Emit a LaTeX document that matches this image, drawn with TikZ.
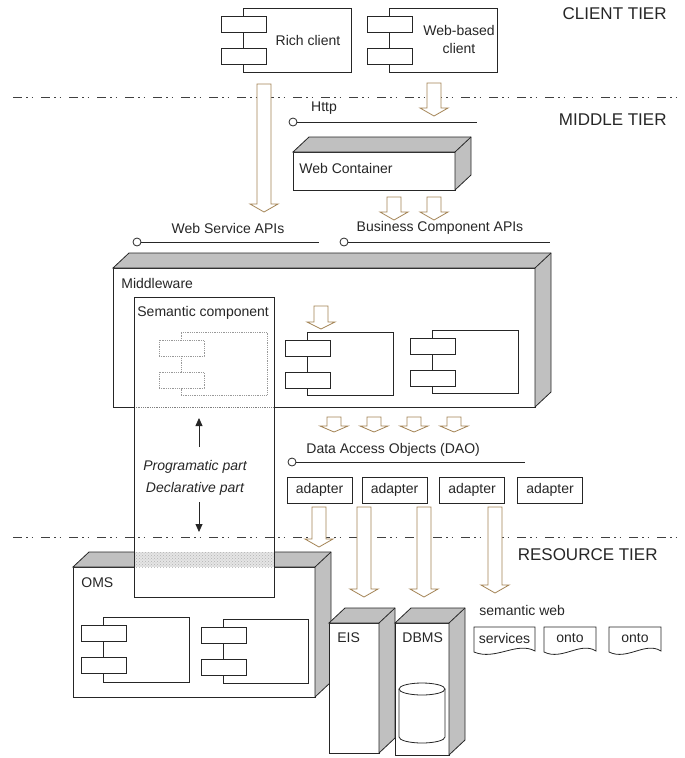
\documentclass[tikz,border=0pt]{standalone}
\usepackage{fontspec}
\setmainfont{Liberation Sans}
\usetikzlibrary{calc,arrows.meta,patterns}

\definecolor{brownline}{RGB}{163,131,84}
\definecolor{sidegray}{RGB}{192,192,192}

% hollow block arrow: centre x, top y, tip y, head length
\newcommand{\hollowarrow}[4]{%
  \draw[brownline,fill=white,line width=0.8pt] ({#1-7},#2) -- ({#1-7},{#3-#4}) -- ({#1-14},{#3-#4}) -- (#1,#3)
    -- ({#1+14},{#3-#4}) -- ({#1+7},{#3-#4}) -- ({#1+7},#2) -- cycle;}
% top and side faces of a box node
\newcommand{\boxdepth}[1]{%
  \draw[fill=sidegray] (#1.north west) -- ++(16,-15) -| ($(#1.south east)+(16,-15)$) -- (#1.south east) -- (#1.north east) -- cycle;
  \draw (#1.north east) -- ++(16,-15);}
% component icon: name, x1, y1, x2, y2
\newcommand{\umlcomp}[6][]{%
  \node[comp,#1,minimum width={#5-#3},minimum height={#6-#4}] (#2) at (#3,#4) {};
  \node[comp,#1,minimum width=45,minimum height=16] (#2-a) at ({#3-22},{#4+8}) {};
  \node[comp,#1,minimum width=45,minimum height=16] (#2-b) at ({#3-22},{#4+40}) {};}
% paper with a wavy lower edge
\newcommand{\wavydoc}[4]{%
  \draw[fill=white] (#2,627) -- (#3,627) -- (#3,651) .. controls ({#3-0.3*(#3-#2)},641) and ({#2+0.35*(#3-#2)},661) .. (#2,652) -- cycle;
  \node[lbl] (#1) at ({(#2+#3)/2},638) {#4};}

\begin{document}
\begin{tikzpicture}[x=1pt,y=-1pt,line width=0.8pt,color=black!85,
  lbl/.style={font=\fontsize{14}{18}\selectfont,inner sep=0pt},
  tier/.style={font=\fontsize{17}{20}\selectfont,inner sep=0pt,anchor=east},
  tierline/.style={black!75,dash pattern=on 9pt off 4pt on 1.5pt off 4pt on 1.5pt off 8pt},
  comp/.style={draw,fill=white,anchor=north west,inner sep=0pt,outer sep=0pt},
  ghost/.style={draw=gray!80,densely dotted},
  front/.style={draw,fill=white,anchor=north west,inner sep=0pt,outer sep=0pt},
  lolly/.style={circle,draw,fill=white,minimum size=8pt,inner sep=0pt},
  adapterbox/.style={draw,minimum width=65pt,minimum height=26pt,inner sep=0pt,font=\fontsize{14}{17}\selectfont}]
\useasboundingbox (0,0) rectangle (685,758);

% tiers
\draw[tierline] (13,97) -- (676,97);
\draw[tierline] (13,537) -- (676,537);
\node[tier] (clienttier) at (667,14) {CLIENT TIER};
\node[tier] (middletier) at (667,120) {MIDDLE TIER};
\node[tier] (resourcetier) at (658,555) {RESOURCE TIER};

% clients
\umlcomp{rich}{243}{8}{351}{72}
\node[lbl] (richtxt) at (308,40) {Rich client};
\umlcomp{web}{389}{8}{497}{72}
\node[lbl,align=center] (webtxt) at (459,39) {Web-based\\client};
\hollowarrow{264}{84}{212}{8}
\hollowarrow{434}{83}{116}{8}

% web container
\node[lolly] (http) at (293,122) {};
\coordinate (http-end) at (477,122);
\draw (http) -- (http-end);
\node[lbl] (httptxt) at (324,108) {Http};
\node[front,minimum width=162,minimum height=38] (wc) at (293,152) {};
\boxdepth{wc}
\node[lbl,anchor=west] (wctxt) at (299,168) {Web Container};
\hollowarrow{394}{197}{220}{8}
\hollowarrow{434}{197}{220}{8}

% APIs
\node[lolly] (ws) at (137,242) {};
\coordinate (ws-end) at (319,242);
\draw (ws) -- (ws-end);
\node[lbl] (wstxt) at (228,228) {Web Service APIs};
\node[lolly] (bc) at (344,242) {};
\coordinate (bc-end) at (550,242);
\draw (bc) -- (bc-end);
\node[lbl] (bctxt) at (440,228) {Business Component APIs};

% middleware
\node[front,minimum width=422,minimum height=139] (mw) at (113,268) {};
\boxdepth{mw}
\node[lbl,anchor=west] (mwtxt) at (121,283) {Middleware};
\fill[white] (134.5,299) rectangle (273.5,409);
\draw[gray,densely dotted] (134,407) -- (274,407);
\umlcomp[ghost]{semcomp}{181}{332}{267}{395}
\umlcomp{compa}{307}{332}{393}{395}
\umlcomp{compb}{432}{330}{518}{393}
\hollowarrow{321}{306}{329}{7}

% data access
\foreach \cx in {334,374,414,454}{
  \hollowarrow{\cx}{417}{432}{6}
}
\node[lolly] (dao) at (292,462) {};
\coordinate (dao-end) at (525,462);
\draw (dao) -- (dao-end);
\node[lbl,anchor=west] (daotxt) at (306,450) {Data Access Objects (DAO)};
\node[adapterbox] (ad1) at (319.5,490) {adapter};
\node[adapterbox] (ad2) at (394.5,490) {adapter};
\node[adapterbox] (ad3) at (472,490) {adapter};
\node[adapterbox] (ad4) at (550,490) {adapter};

% resources
\node[front,minimum width=242,minimum height=130] (oms) at (73,567) {};
\boxdepth{oms}
\node[lbl,anchor=west] (omstxt) at (81,583) {OMS};
\umlcomp{oms1}{103}{617}{189}{682}
\umlcomp{oms2}{223}{619}{308}{683}
\node[front,minimum width=50,minimum height=130] (eis) at (329,623) {};
\boxdepth{eis}
\node[lbl,anchor=west] (eistxt) at (337,638) {EIS};
\node[front,minimum width=54,minimum height=132] (dbms) at (395,623) {};
\boxdepth{dbms}
\node[lbl,anchor=west] (dbmstxt) at (402,638) {DBMS};
\draw[fill=white] (399,689) -- (399,737) arc[start angle=180,end angle=360,x radius=23pt,y radius=6pt] -- (445,689);
\draw[fill=white] (422,689) ellipse[x radius=23pt,y radius=6pt];
\fill[white] (134.5,549) rectangle (273.5,596.5);
\fill[gray!20] (134.5,552) rectangle (273.5,567);
\fill[pattern=crosshatch dots,pattern color=gray!60] (134.5,552) rectangle (273.5,567);
\hollowarrow{319}{507}{547}{8}
\hollowarrow{364}{507}{597}{8}
\hollowarrow{424}{507}{597}{8}
\hollowarrow{495}{507}{593}{8}

% semantic component
\node[draw,anchor=north west,minimum width=140,minimum height=300,inner sep=0pt] (sem) at (134,297) {};
\node[lbl,anchor=west] (semtxt) at (137,313) {Semantic component};
\node[lbl] (prog) at (195,467) {\itshape Programatic part};
\node[lbl] (decl) at (195,489) {\itshape Declarative part};
\coordinate (up-s) at (199,447);
\coordinate (up-e) at (199,418);
\coordinate (dn-s) at (199,502);
\coordinate (dn-e) at (199,532);
\draw[-{Triangle[length=8pt,width=7pt]}] (up-s) -- (up-e);
\draw[-{Triangle[length=8pt,width=7pt]}] (dn-s) -- (dn-e);

% semantic web
\node[lbl,anchor=west] (swtxt) at (479,610) {semantic web};
\wavydoc{svc}{474}{535}{services}
\wavydoc{onto1}{544}{596}{onto}
\wavydoc{onto2}{609}{661}{onto}
\end{tikzpicture}
\end{document}
